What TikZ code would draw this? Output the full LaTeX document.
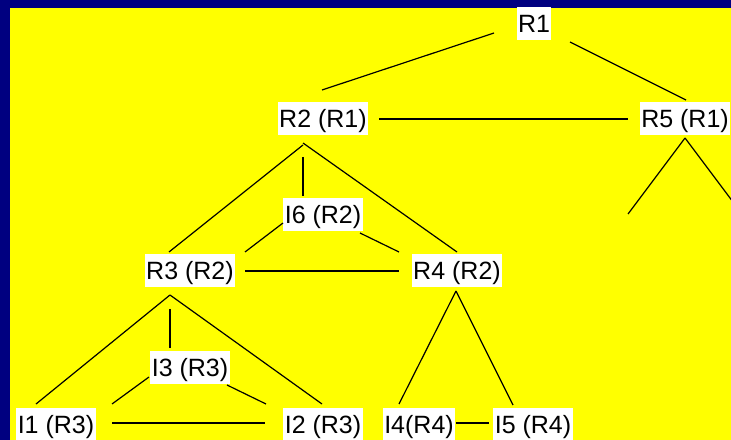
\documentclass[tikz,border=0pt]{standalone}
\usepackage{fontspec}
\setmainfont{Liberation Sans}
\usetikzlibrary{calc}
\definecolor{navy}{RGB}{0,0,128}
\definecolor{paper}{RGB}{255,255,0}
\tikzset{
  lbl/.style={fill=white, inner xsep=1.5bp, inner ysep=0pt, minimum height=33bp,
              text height=18bp, text depth=0pt, font=\fontsize{25bp}{30bp}\selectfont},
  link/.style={draw=black, line width=1.2bp}
}
\begin{document}
\begin{tikzpicture}[x=1bp, y=-1bp]
  \useasboundingbox (0,0) rectangle (731,440);
  \fill[navy] (0,0) rectangle (731,440);
  \fill[paper] (10,8) rectangle (731,440);
  \clip (0,0) rectangle (731,440);

  % tree nodes
  \node[lbl] (R1) at (534,24)  {R1};
  \node[lbl] (R2) at (323,119) {R2 (R1)};
  \node[lbl] (R5) at (685,119) {R5 (R1)};
  \node[lbl] (I6) at (323,215) {I6 (R2)};
  \node[lbl] (R3) at (190,271) {R3 (R2)};
  \node[lbl] (R4) at (457,271) {R4 (R2)};
  \node[lbl] (I3) at (190,367) {I3 (R3)};
  \node[lbl] (I1) at (56,424)  {I1 (R3)};
  \node[lbl] (I2) at (323,424) {I2 (R3)};
  \node[lbl] (I4) at (419,424) {I4(R4)};
  \node[lbl] (I5) at (533,424) {I5 (R4)};

  % children of R5 running off the right edge
  \coordinate (r5l) at (628,214);
  \coordinate (r5r) at (742,214);

  % connectors
  \draw[link] ([shift={(-1,-29)}]R2.center) -- ([shift={(-40,9)}]R1.center);
  \draw[link] ([shift={(36,18)}]R1.center) -- ([shift={(1,-19)}]R5.center);
  \draw[link] ([shift={(56,0)}]R2.center) -- ([shift={(-57,0)}]R5.center);
  \draw[link] ([shift={(0,19)}]R5.center) -- (r5l);
  \draw[link] ([shift={(0,19)}]R5.center) -- (r5r);

  \draw[link] ([shift={(-20,26)}]R2.center) -- ([shift={(-21,-19)}]R3.center);
  \draw[link] ([shift={(-20,24)}]R2.center) -- ([shift={(0,-19)}]R4.center);
  \draw[link] ([shift={(-20,38)}]R2.center) -- ([shift={(-20,-19)}]I6.center);
  \draw[link] ([shift={(-40,8)}]I6.center) -- ([shift={(55,-19)}]R3.center);
  \draw[link] ([shift={(37,18)}]I6.center) -- ([shift={(-58,-19)}]R4.center);
  \draw[link] ([shift={(55,0)}]R3.center) -- ([shift={(-58,0)}]R4.center);

  \draw[link] ([shift={(-20,24)}]R3.center) -- ([shift={(-20,-20)}]I1.center);
  \draw[link] ([shift={(-20,24)}]R3.center) -- ([shift={(-1,-20)}]I2.center);
  \draw[link] ([shift={(-20,38)}]R3.center) -- ([shift={(-20,-19)}]I3.center);
  \draw[link] ([shift={(-41,10)}]I3.center) -- ([shift={(56,-20)}]I1.center);
  \draw[link] ([shift={(37,18)}]I3.center) -- ([shift={(-57,-20)}]I2.center);
  \draw[link] ([shift={(56,-1)}]I1.center) -- ([shift={(-58,-1)}]I2.center);

  \draw[link] ([shift={(-1,20)}]R4.center) -- ([shift={(-20,-20)}]I4.center);
  \draw[link] ([shift={(-1,20)}]R4.center) -- ([shift={(-20,-19)}]I5.center);
  \draw[link] ([shift={(37,-1)}]I4.center) -- ([shift={(-44,-1)}]I5.center);
\end{tikzpicture}
\end{document}
